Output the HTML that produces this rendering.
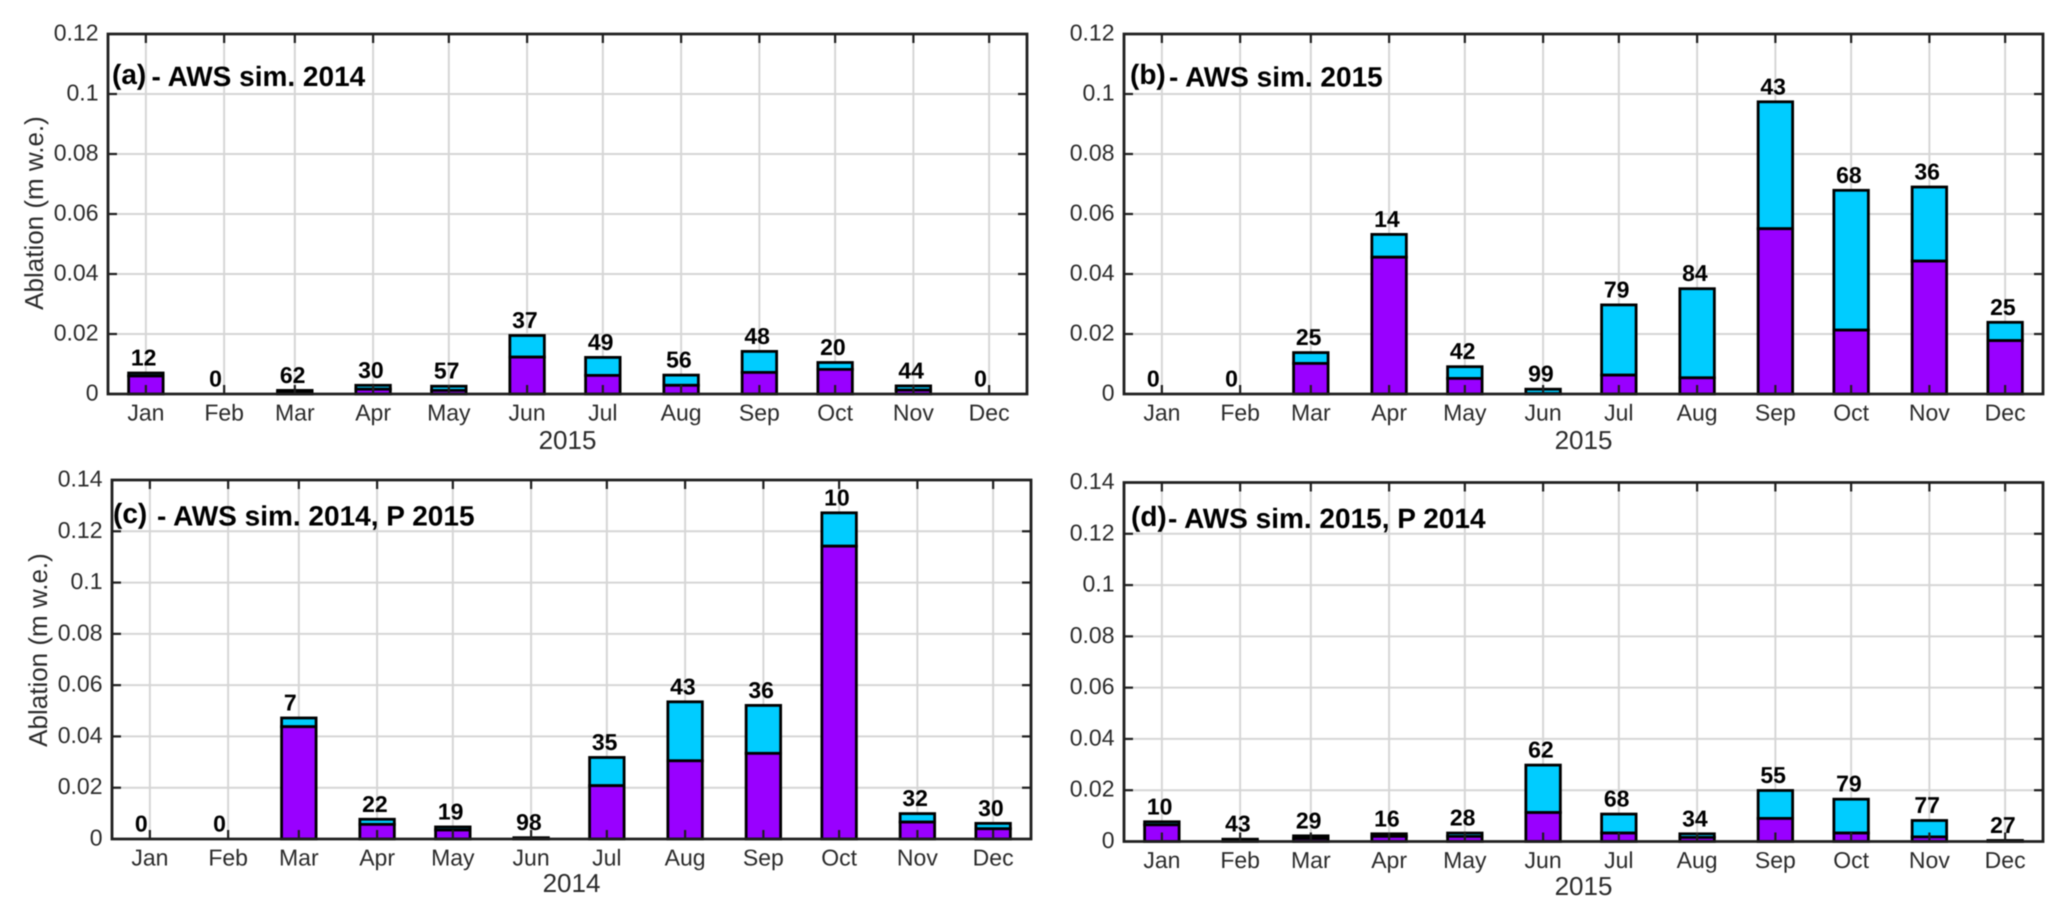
<!DOCTYPE html>
<html lang="en">
<head>
<meta charset="utf-8">
<title>Monthly ablation, AWS simulations</title>
<style>
html,body{margin:0;padding:0;background:#fff;}
svg{display:block;filter:blur(0.4px);}
text{font-family:"Liberation Sans",Arial,sans-serif;text-rendering:geometricPrecision;}
.tick-label{font-size:23px;fill:#2b2b2b;}
.axis-title{font-size:26px;fill:#2b2b2b;}
.bar-label{font-size:23px;font-weight:bold;fill:#000;}
.panel-title{font-size:28px;font-weight:bold;fill:#000;}
</style>
</head>
<body>
<svg id="figure" xmlns="http://www.w3.org/2000/svg" width="2068" height="920" viewBox="0 0 2068 920">
  <rect x="0" y="0" width="2068" height="920" fill="#fff"/>
  <g id="panel-a"></g>
  <g id="panel-b"></g>
  <g id="panel-c"></g>
  <g id="panel-d"></g>

  <text class="axis-title" text-anchor="middle" transform="translate(43 213) rotate(-90)">Ablation (m w.e.)</text>
  <text class="axis-title" text-anchor="middle" transform="translate(47 650) rotate(-90)">Ablation (m w.e.)</text>

  <text class="axis-title" text-anchor="middle" x="567.5" y="449">2015</text>
  <text class="axis-title" text-anchor="middle" x="1583.5" y="449">2015</text>
  <text class="axis-title" text-anchor="middle" x="571.5" y="892">2014</text>
  <text class="axis-title" text-anchor="middle" x="1583.5" y="895">2015</text>

  <text class="panel-title" x="112" y="84">(a)</text>
  <text class="panel-title" x="151.5" y="86">- AWS sim. 2014</text>
  <text class="panel-title" x="1130" y="84">(b)</text>
  <text class="panel-title" x="1169" y="86.5">- AWS sim. 2015</text>
  <text class="panel-title" x="113" y="523">(c)</text>
  <text class="panel-title" x="157" y="525.5">- AWS sim. 2014, P 2015</text>
  <text class="panel-title" x="1131" y="526">(d)</text>
  <text class="panel-title" x="1168" y="528">- AWS sim. 2015, P 2014</text>
</svg>
<script>
var months = ['Jan','Feb','Mar','Apr','May','Jun','Jul','Aug','Sep','Oct','Nov','Dec'];

var yTicksShort = [0,0.02,0.04,0.06,0.08,0.1,0.12];
var yTickLabelsShort = ['0','0.02','0.04','0.06','0.08','0.1','0.12'];
var yTicksTall = [0,0.02,0.04,0.06,0.08,0.1,0.12,0.14];
var yTickLabelsTall = ['0','0.02','0.04','0.06','0.08','0.1','0.12','0.14'];

var totalA  = [0.0070,0,0.0012,0.0029,0.0026,0.0195,0.0122,0.0063,0.0142,0.0105,0.0027,0];
var purpleA = [0.0060,0,0.0008,0.0016,0.0012,0.0123,0.0062,0.0029,0.0072,0.0082,0.0013,0];
var labelsA = ['12','0','62','30','57','37','49','56','48','20','44','0'];

var totalB  = [0,0,0.0138,0.0532,0.0091,0.0016,0.0297,0.0351,0.0974,0.0679,0.0690,0.0239];
var purpleB = [0,0,0.0102,0.0456,0.0052,0.0001,0.0063,0.0054,0.0551,0.0213,0.0443,0.0178];
var labelsB = ['0','0','25','14','42','99','79','84','43','68','36','25'];

var totalC  = [0,0,0.0472,0.0077,0.0047,0.0005,0.0318,0.0535,0.0521,0.1272,0.0099,0.0061];
var purpleC = [0,0,0.0438,0.0057,0.0035,0.0001,0.0208,0.0305,0.0334,0.1142,0.0066,0.0040];
var labelsC = ['0','0','7','22','19','98','35','43','36','10','32','30'];

var totalD  = [0.0077,0.0009,0.0022,0.0030,0.0033,0.0298,0.0107,0.0030,0.0199,0.0165,0.0082,0.0004];
var purpleD = [0.0065,0.0003,0.0012,0.0020,0.0020,0.0113,0.0033,0.0016,0.0090,0.0033,0.0018,0.0001];
var labelsD = ['10','43','29','16','28','62','68','34','55','79','77','27'];

var SVG_NS = 'http://www.w3.org/2000/svg';
var INK = '#1f1f1f';
var GRID = '#d6d6d6';
var CYAN = '#00ccff';
var PURPLE = '#9900ff';
var DAY_MS = 86400000;

function make(parent, tag) {
  var el = document.createElementNS(SVG_NS, tag);
  parent.appendChild(el);
  return el;
}

function drawLine(el, x1, y1, x2, y2, color, width) {
  el.setAttribute('x1', x1);
  el.setAttribute('y1', y1);
  el.setAttribute('x2', x2);
  el.setAttribute('y2', y2);
  el.setAttribute('stroke', color);
  el.setAttribute('stroke-width', width);
}

function drawPanel(cfg) {
  var root = document.getElementById(cfg.id);
  var plotW = cfg.right - cfg.left;
  var plotH = cfg.bottom - cfg.top;
  var yMax = cfg.yTicks[cfg.yTicks.length - 1];
  var firstDay = Date.UTC(cfg.year, 0, 1);

  function xScale(monthIndex) {
    var days = (Date.UTC(cfg.year, monthIndex, 1) - firstDay) / DAY_MS;
    return cfg.left + (days + 15) / 364 * plotW;
  }
  function yScale(value) {
    return cfg.bottom - value / yMax * plotH;
  }

  var i, el, x, y;

  for (i = 0; i < months.length; i++) {
    x = xScale(i);
    el = make(root, 'line');
    
    
    drawLine(el, x, cfg.top, x, cfg.bottom, GRID, 2);
  }
  for (i = 1; i < cfg.yTicks.length - 1; i++) {
    y = yScale(cfg.yTicks[i]);
    el = make(root, 'line');
    
    
    drawLine(el, cfg.left, y, cfg.right, y, GRID, 2);
  }

  var barW = 34.5;
  for (i = 0; i < months.length; i++) {
    x = xScale(i) - barW / 2;
    var yTotal = yScale(cfg.total[i]);
    var yPurple = yScale(cfg.purple[i]);
    var y0 = yScale(0);

    var upper = make(root, 'rect');
    
    
    upper.setAttribute('x', x);
    upper.setAttribute('y', yTotal);
    upper.setAttribute('width', barW);
    upper.setAttribute('height', Math.max(0, yPurple - yTotal));
    upper.setAttribute('fill', CYAN);
    upper.setAttribute('stroke', '#000');
    upper.setAttribute('stroke-width', 2.8);

    var lower = make(root, 'rect');
    
    
    lower.setAttribute('x', x);
    lower.setAttribute('y', yPurple);
    lower.setAttribute('width', barW);
    lower.setAttribute('height', Math.max(0, y0 - yPurple));
    lower.setAttribute('fill', PURPLE);
    lower.setAttribute('stroke', '#000');
    lower.setAttribute('stroke-width', 2.8);
  }

  var frame = make(root, 'path');
  
  
  frame.setAttribute('d', 'M' + cfg.left + ' ' + cfg.top + 'H' + cfg.right + 'V' + cfg.bottom + 'H' + cfg.left + 'Z');
  frame.setAttribute('fill', 'none');
  frame.setAttribute('stroke', INK);
  frame.setAttribute('stroke-width', 2.8);

  var tickLen = 9;
  for (i = 0; i < months.length; i++) {
    x = xScale(i);
    el = make(root, 'line');
    
    
    drawLine(el, x, cfg.top, x, cfg.top + tickLen, INK, 2.2);
    el = make(root, 'line');
    
    
    drawLine(el, x, cfg.bottom, x, cfg.bottom - tickLen, INK, 2.2);

    el = make(root, 'text');
    
    
    el.setAttribute('class', 'tick-label');
    el.setAttribute('text-anchor', 'middle');
    el.setAttribute('x', x);
    el.setAttribute('y', cfg.bottom + 26.5);
    el.textContent = months[i];
  }

  for (i = 0; i < cfg.yTicks.length; i++) {
    y = yScale(cfg.yTicks[i]);
    if (i > 0 && i < cfg.yTicks.length - 1) {
      el = make(root, 'line');
      
      
      drawLine(el, cfg.left, y, cfg.left + tickLen, y, INK, 2.2);
      el = make(root, 'line');
      
      
      drawLine(el, cfg.right, y, cfg.right - tickLen, y, INK, 2.2);
    }
    el = make(root, 'text');
    
    
    el.setAttribute('class', 'tick-label');
    el.setAttribute('text-anchor', 'end');
    el.setAttribute('x', cfg.left - 9.5);
    el.setAttribute('y', y + 6.5);
    el.textContent = cfg.yLabels[i];
  }

  for (i = 0; i < months.length; i++) {
    el = make(root, 'text');
    
    
    el.setAttribute('class', 'bar-label');
    el.setAttribute('x', xScale(i) - 15);
    el.setAttribute('y', yScale(cfg.total[i]) - 7.5);
    el.textContent = cfg.labels[i];
  }
}

drawPanel({id:'panel-a', left:108, right:1027, top:34, bottom:394, year:2015, yTicks:yTicksShort, yLabels:yTickLabelsShort, total:totalA, purple:purpleA, labels:labelsA});
drawPanel({id:'panel-b', left:1124, right:2043, top:34, bottom:394, year:2015, yTicks:yTicksShort, yLabels:yTickLabelsShort, total:totalB, purple:purpleB, labels:labelsB});
drawPanel({id:'panel-c', left:112, right:1031, top:480, bottom:839, year:2014, yTicks:yTicksTall, yLabels:yTickLabelsTall, total:totalC, purple:purpleC, labels:labelsC});
drawPanel({id:'panel-d', left:1124, right:2043, top:482.5, bottom:841.5, year:2015, yTicks:yTicksTall, yLabels:yTickLabelsTall, total:totalD, purple:purpleD, labels:labelsD});
</script>
</body>
</html>
